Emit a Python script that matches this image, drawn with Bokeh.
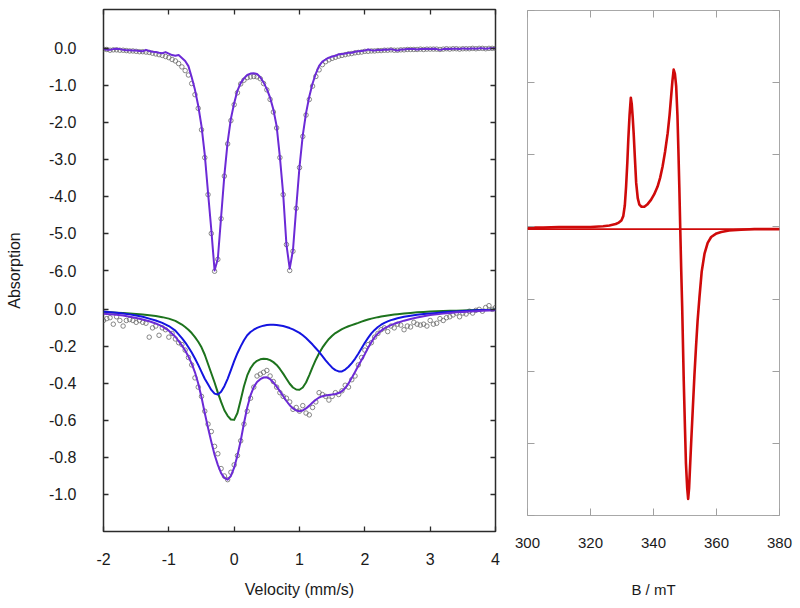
import numpy as np
from bokeh.plotting import figure
from bokeh.models import Range1d, LinearAxis, FixedTicker, CustomJSTickFormatter
from bokeh.layouts import row, column
from bokeh.embed import file_html
from bokeh.resources import INLINE

# ---------------- data ----------------
# velocity channels (mm/s) of the Moessbauer spectra
vel = [-2.00, -1.95, -1.90, -1.85, -1.80, -1.75, -1.70, -1.65, -1.60, -1.55,
       -1.50, -1.45, -1.40, -1.35, -1.30, -1.25, -1.20, -1.15, -1.10, -1.05,
       -1.00, -0.95, -0.90, -0.85, -0.80, -0.75, -0.70, -0.65, -0.60, -0.55,
       -0.50, -0.45, -0.40, -0.35, -0.30, -0.25, -0.20, -0.15, -0.10, -0.05,
       0.00, 0.05, 0.10, 0.15, 0.20, 0.25, 0.30, 0.35, 0.40, 0.45,
       0.50, 0.55, 0.60, 0.65, 0.70, 0.75, 0.80, 0.85, 0.90, 0.95,
       1.00, 1.05, 1.10, 1.15, 1.20, 1.25, 1.30, 1.35, 1.40, 1.45,
       1.50, 1.55, 1.60, 1.65, 1.70, 1.75, 1.80, 1.85, 1.90, 1.95,
       2.00, 2.05, 2.10, 2.15, 2.20, 2.25, 2.30, 2.35, 2.40, 2.45,
       2.50, 2.55, 2.60, 2.65, 2.70, 2.75, 2.80, 2.85, 2.90, 2.95,
       3.00, 3.05, 3.10, 3.15, 3.20, 3.25, 3.30, 3.35, 3.40, 3.45,
       3.50, 3.55, 3.60, 3.65, 3.70, 3.75, 3.80, 3.85, 3.90, 3.95, 4.00]

# upper spectrum: measured points (%)
upper_data = [-0.02, -0.03, -0.05, -0.04, -0.04, -0.05, -0.05, -0.06, -0.07, -0.07,
              -0.08, -0.09, -0.09, -0.10, -0.11, -0.13, -0.15, -0.17, -0.19, -0.22,
              -0.25, -0.30, -0.34, -0.41, -0.50, -0.60, -0.72, -0.95, -1.25, -1.62,
              -2.20, -2.95, -3.95, -5.00, -6.02, -5.70, -4.60, -3.45, -2.58, -1.95,
              -1.52, -1.20, -0.96, -0.86, -0.79, -0.77, -0.76, -0.77, -0.82, -0.95,
              -1.12, -1.38, -1.72, -2.15, -2.95, -3.95, -5.30, -6.00, -5.48, -4.32,
              -3.22, -2.38, -1.80, -1.38, -1.02, -0.76, -0.58, -0.44, -0.36, -0.31,
              -0.27, -0.24, -0.21, -0.19, -0.17, -0.15, -0.14, -0.12, -0.11, -0.10,
              -0.08, -0.08, -0.07, -0.07, -0.06, -0.06, -0.05, -0.05, -0.04, -0.05,
              -0.05, -0.04, -0.04, -0.03, -0.03, -0.03, -0.03, -0.02, -0.03, -0.02,
              -0.02, -0.02, -0.02, -0.03, -0.02, -0.01, -0.02, -0.01, -0.01, -0.02,
              -0.01, -0.01, -0.01, 0.00, -0.01, 0.00, 0.00, -0.01, 0.00, 0.00, 0.00]

# upper spectrum: fitted / smoothed line (%)
upper_fit = [-0.01, -0.04, -0.04, -0.02, -0.01, -0.02, -0.04, -0.05, -0.05, -0.06,
             -0.06, -0.07, -0.08, -0.04, -0.07, -0.09, -0.10, -0.12, -0.13, -0.10,
             -0.14, -0.18, -0.20, -0.18, -0.26, -0.34, -0.48, -0.78, -1.12, -1.55,
             -2.10, -2.87, -3.90, -4.90, -6.00, -5.68, -4.56, -3.43, -2.53, -1.90,
             -1.48, -1.14, -0.94, -0.81, -0.72, -0.68, -0.67, -0.69, -0.78, -0.92,
             -1.10, -1.33, -1.65, -2.10, -2.94, -3.93, -5.30, -5.95, -5.45, -4.30,
             -3.20, -2.35, -1.75, -1.30, -0.95, -0.68, -0.47, -0.36, -0.30, -0.25,
             -0.22, -0.20, -0.16, -0.15, -0.14, -0.12, -0.12, -0.09, -0.08, -0.07,
             -0.06, -0.03, -0.05, -0.06, -0.04, -0.05, -0.03, -0.04, -0.02, -0.04,
             -0.06, -0.03, -0.03, -0.02, -0.02, -0.02, -0.03, -0.02, -0.02, -0.01,
             -0.02, -0.01, -0.02, -0.04, -0.02, -0.01, -0.02, -0.01, -0.01, -0.02,
             0.00, -0.01, -0.01, 0.00, -0.01, 0.00, 0.00, -0.01, 0.00, 0.00, 0.00]

# lower spectrum: measured points (%)
lower_data = [-0.06, -0.05, -0.045, -0.08, -0.04, -0.06, -0.09, -0.06, -0.055, -0.06,
              -0.07, -0.06, -0.07, -0.075, -0.15, -0.10, -0.09, -0.14, -0.10, -0.11,
              -0.15, -0.13, -0.16, -0.18, -0.19, -0.22, -0.26, -0.30, -0.37, -0.42,
              -0.47, -0.55, -0.62, -0.66, -0.74, -0.78, -0.86, -0.90, -0.92, -0.88,
              -0.84, -0.79, -0.71, -0.62, -0.55, -0.48, -0.42, -0.36, -0.35, -0.34,
              -0.33, -0.36, -0.39, -0.42, -0.45, -0.47, -0.48, -0.50, -0.54, -0.53,
              -0.55, -0.52, -0.56, -0.57, -0.53, -0.50, -0.45, -0.46, -0.47, -0.49,
              -0.47, -0.45, -0.46, -0.44, -0.41, -0.42, -0.38, -0.36, -0.30, -0.26,
              -0.22, -0.19, -0.18, -0.15, -0.13, -0.11, -0.10, -0.12, -0.09, -0.10,
              -0.08, -0.085, -0.11, -0.09, -0.095, -0.07, -0.08, -0.085, -0.08, -0.09,
              -0.06, -0.08, -0.075, -0.05, -0.06, -0.045, -0.04, -0.03, -0.02, -0.04,
              -0.02, -0.025, -0.01, -0.02, -0.005, 0.00, -0.01, 0.01, 0.02, 0.00, 0.01]

# lower spectrum: fit curves (velocity grid denser in the middle)
vel_fit = [-2.0, -1.9, -1.8, -1.7, -1.6, -1.5, -1.4, -1.3, -1.2, -1.1, -1.0, -0.9,
           -0.8, -0.75, -0.7, -0.65, -0.6, -0.55, -0.5, -0.45, -0.4, -0.35, -0.3, -0.25,
           -0.2, -0.15, -0.1, -0.05,
           0.0, 0.05, 0.1, 0.15, 0.2, 0.25, 0.3, 0.35, 0.4, 0.45, 0.5, 0.55, 0.6, 0.65,
           0.7, 0.75, 0.8, 0.85, 0.9, 0.95,
           1.0, 1.05, 1.1, 1.15, 1.2, 1.25, 1.3, 1.35, 1.4, 1.45, 1.5, 1.55, 1.6, 1.65,
           1.7, 1.75, 1.8, 1.85, 1.9, 1.95,
           2.0, 2.05, 2.1, 2.15, 2.2, 2.25, 2.3, 2.35, 2.4, 2.45, 2.5,
           2.6, 2.7, 2.8, 2.9, 3.0, 3.1, 3.2, 3.3, 3.4, 3.5, 3.6, 3.7, 3.8, 3.9, 4.0]

lower_green = [-0.015, -0.016, -0.018, -0.020, -0.022, -0.025, -0.028, -0.032, -0.036, -0.042, -0.050, -0.062,
               -0.082, -0.095, -0.110, -0.128, -0.150, -0.175, -0.205, -0.245, -0.295, -0.345, -0.395, -0.450,
               -0.500, -0.545, -0.575, -0.595,
               -0.597, -0.560, -0.490, -0.415, -0.357, -0.318, -0.293, -0.278, -0.270, -0.267, -0.268, -0.274,
               -0.285, -0.300, -0.322, -0.347, -0.375, -0.402, -0.422, -0.433,
               -0.434, -0.422, -0.395, -0.355, -0.312, -0.272, -0.237, -0.207, -0.182, -0.160, -0.143, -0.128,
               -0.117, -0.107, -0.099, -0.091, -0.085, -0.079, -0.073, -0.066,
               -0.060, -0.055, -0.050, -0.046, -0.042, -0.039, -0.036, -0.033, -0.030, -0.028, -0.026,
               -0.022, -0.019, -0.016, -0.014, -0.012, -0.010, -0.009, -0.008, -0.007, -0.006, -0.005,
               -0.004, -0.003, -0.002, -0.002]

lower_blue = [-0.012, -0.015, -0.018, -0.022, -0.027, -0.033, -0.040, -0.050, -0.060, -0.073, -0.090, -0.115,
              -0.155, -0.178, -0.205, -0.233, -0.265, -0.300, -0.338, -0.375, -0.405, -0.435, -0.455, -0.460,
              -0.445, -0.415, -0.375, -0.328,
              -0.280, -0.237, -0.200, -0.167, -0.140, -0.122, -0.110, -0.100, -0.093, -0.088, -0.085, -0.083,
              -0.083, -0.084, -0.087, -0.090, -0.095, -0.101, -0.108, -0.117,
              -0.127, -0.140, -0.155, -0.172, -0.190, -0.210, -0.230, -0.252, -0.275, -0.296, -0.315, -0.328,
              -0.335, -0.335, -0.325, -0.310, -0.290, -0.267, -0.240, -0.210,
              -0.180, -0.154, -0.130, -0.111, -0.095, -0.083, -0.073, -0.065, -0.058, -0.053, -0.048,
              -0.040, -0.034, -0.029, -0.025, -0.022, -0.019, -0.016, -0.013, -0.011, -0.009, -0.007,
              -0.005, -0.004, -0.003, -0.002]

lower_total = [-0.023, -0.026, -0.029, -0.033, -0.040, -0.047, -0.055, -0.064, -0.076, -0.092, -0.115, -0.148,
               -0.195, -0.222, -0.255, -0.293, -0.340, -0.400, -0.475, -0.560, -0.640, -0.715, -0.785, -0.840,
               -0.885, -0.910, -0.920, -0.900,
               -0.855, -0.790, -0.710, -0.615, -0.530, -0.465, -0.420, -0.392, -0.377, -0.368, -0.367, -0.377,
               -0.395, -0.417, -0.442, -0.468, -0.495, -0.518, -0.535, -0.546,
               -0.550, -0.546, -0.535, -0.520, -0.503, -0.488, -0.476, -0.469, -0.465, -0.462, -0.460, -0.457,
               -0.452, -0.442, -0.425, -0.400, -0.370, -0.338, -0.305, -0.273,
               -0.242, -0.207, -0.177, -0.150, -0.130, -0.115, -0.103, -0.093, -0.085, -0.078, -0.072,
               -0.061, -0.052, -0.044, -0.037, -0.031, -0.027, -0.023, -0.019, -0.016, -0.014, -0.012,
               -0.010, -0.008, -0.006, -0.005]

# EPR spectrum
epr_b = [300, 305, 310, 315, 320, 324, 326, 328, 329, 329.8, 330.4, 330.9, 331.3, 331.7,
         332.0, 332.4, 332.8, 333.1, 333.4, 333.7, 334.1, 334.5, 335.0, 335.5, 336.2, 337.1,
         338.0, 339.2, 340.2, 341.3, 342.1, 342.9, 343.7, 344.5, 345.1, 345.6, 346.0, 346.4,
         346.8, 347.2, 347.6, 347.9, 348.2, 348.5, 348.8, 349.1, 349.6, 350.0, 350.3, 350.7,
         351.0, 351.3, 351.6, 352.0, 352.5, 353.0, 353.5, 354.0, 354.6, 355.3, 356.2, 357.2,
         358.3, 360, 361.5, 364, 367.8, 372, 376, 380]
epr_signal = [-0.01, -0.01, 0.0, 0.0, 0.0, 0.01, 0.02, 0.04, 0.06, 0.09, 0.15, 0.30, 0.56, 0.90,
              1.21, 1.55, 1.79, 1.70, 1.52, 1.30, 0.95, 0.61, 0.40, 0.31, 0.28, 0.28,
              0.31, 0.375, 0.45, 0.56, 0.68, 0.84, 1.05, 1.30, 1.55, 1.81, 2.02, 2.18,
              2.12, 1.95, 1.55, 1.07, 0.55, -0.04, -0.60, -1.10, -2.13, -2.80, -3.28, -3.62,
              -3.77, -3.62, -3.33, -2.95, -2.50, -2.05, -1.66, -1.30, -0.97, -0.62, -0.37, -0.22,
              -0.14, -0.09, -0.07, -0.05, -0.04, -0.03, -0.03, -0.03]
epr_base_b = [300, 380]
epr_base = [-0.03, -0.03]

# tick values and labels
vel_ticks = [-2, -1, 0, 1, 2, 3, 4]
vel_tick_labels = ["-2", "-1", "0", "1", "2", "3", "4"]
upper_ticks = [0.0, -1.0, -2.0, -3.0, -4.0, -5.0, -6.0]
upper_tick_labels = ["0.0", "-1.0", "-2.0", "-3.0", "-4.0", "-5.0", "-6.0"]
lower_ticks = [0.0, -0.2, -0.4, -0.6, -0.8, -1.0]
lower_tick_labels = ["0.0", "-0.2", "-0.4", "-0.6", "-0.8", "-1.0"]
b_ticks = [300, 320, 340, 360, 380]
epr_ticks = [-4, -3, -2, -1, 0, 1, 2, 3]

# ---------------- style ----------------
FONT = "Liberation Sans"
PURPLE = "#6c2ad6"
GREEN = "#1d731d"
BLUE = "#1414e0"
RED = "#cf0a0a"
PT = "#6a6a6a"

LOWER_OFFSET = -7.05   # where the lower spectrum's zero sits on the shared axis
LOWER_SCALE = 5.0      # lower spectrum is drawn 5x enlarged


def lower_y(vals):
    return [LOWER_OFFSET + LOWER_SCALE * v for v in vals]


y_tick_pos = list(upper_ticks) + lower_y(lower_ticks)
y_tick_txt = upper_tick_labels + lower_tick_labels

LOOKUP = """
for (let i = 0; i < pos.length; i++) {
  if (Math.abs(pos[i] - tick) < 1e-6) { return txt[i]; }
}
return "";
"""


def style(ax, tick_color, tick_len, tick_w, size):
    ax.axis_line_color = None
    ax.major_tick_in = tick_len
    ax.major_tick_out = 0
    ax.major_tick_line_color = tick_color
    ax.major_tick_line_width = tick_w
    ax.minor_tick_line_color = None
    ax.major_label_text_font = FONT
    ax.major_label_text_font_size = size
    ax.major_label_text_color = "#1a1a1a"
    ax.axis_label_text_font = FONT
    ax.axis_label_text_font_size = size
    ax.axis_label_text_font_style = "normal"
    ax.axis_label_text_color = "#1a1a1a"


def no_labels(ax):
    ax.major_label_text_font_size = "0px"
    ax.major_label_text_color = None
    ax.major_label_standoff = 0


# ---------------- left panel: Moessbauer ----------------
p1 = figure(width=510, height=608, x_range=Range1d(-2, 4), y_range=Range1d(-13.05, 1.05),
            output_backend="svg", toolbar_location=None,
            min_border_left=103, min_border_right=15, min_border_top=9, min_border_bottom=77)
p1.grid.visible = False
p1.outline_line_color = "#2b2b2b"
p1.outline_line_width = 1.5

xa = p1.xaxis[0]
xa.ticker = FixedTicker(ticks=vel_ticks, minor_ticks=[])
xa.formatter = CustomJSTickFormatter(args=dict(pos=vel_ticks, txt=vel_tick_labels), code=LOOKUP)
xa.axis_label = "Velocity (mm/s)"
ya = p1.yaxis[0]
ya.ticker = FixedTicker(ticks=y_tick_pos, minor_ticks=[])
ya.formatter = CustomJSTickFormatter(args=dict(pos=y_tick_pos, txt=y_tick_txt), code=LOOKUP)
ya.axis_label = "Absorption"

top1 = LinearAxis(ticker=FixedTicker(ticks=vel_ticks, minor_ticks=[]))
right1 = LinearAxis(ticker=FixedTicker(ticks=y_tick_pos, minor_ticks=[]))
p1.add_layout(top1, "above")
p1.add_layout(right1, "right")
for ax in [xa, ya, top1, right1]:
    style(ax, "#2b2b2b", 5, 1.3, "16px")
for ax in [top1, right1]:
    no_labels(ax)
xa.major_label_standoff = 21
xa.axis_label_standoff = 13
ya.major_label_standoff = 27
ya.axis_label_standoff = 23

# upper spectrum
p1.scatter(vel, upper_data, marker="circle", size=4.5, fill_color=None,
           line_color=PT, line_width=0.8)
p1.line(vel, upper_fit, color=PURPLE, line_width=2, line_join="round")
# lower spectrum
p1.scatter(vel, lower_y(lower_data), marker="circle", size=4.5, fill_color=None,
           line_color=PT, line_width=0.8)
p1.line(vel_fit, lower_y(lower_green), color=GREEN, line_width=2, line_join="round")
p1.line(vel_fit, lower_y(lower_blue), color=BLUE, line_width=2, line_join="round")
p1.line(vel_fit, lower_y(lower_total), color=PURPLE, line_width=2, line_join="round")

# ---------------- right panel: EPR ----------------
p2 = figure(width=290, height=608, x_range=Range1d(300, 380), y_range=Range1d(-4, 3),
            output_backend="svg", toolbar_location=None,
            min_border_left=17, min_border_right=21, min_border_top=10, min_border_bottom=93)
p2.grid.visible = False
p2.outline_line_color = "#a8a8a8"
p2.outline_line_width = 1

bx = p2.xaxis[0]
bx.ticker = FixedTicker(ticks=b_ticks, minor_ticks=[])
bx.axis_label = "B / mT"
by = p2.yaxis[0]
by.ticker = FixedTicker(ticks=epr_ticks, minor_ticks=[])
top2 = LinearAxis(ticker=FixedTicker(ticks=b_ticks, minor_ticks=[]))
right2 = LinearAxis(ticker=FixedTicker(ticks=epr_ticks, minor_ticks=[]))
p2.add_layout(top2, "above")
p2.add_layout(right2, "right")
for ax in [bx, by, top2, right2]:
    style(ax, "#a0a0a0", 7, 1, "15px")
for ax in [by, top2, right2]:
    no_labels(ax)
bx.major_label_standoff = 22
bx.axis_label_standoff = 30

p2.line(epr_base_b, epr_base, color=RED, line_width=1.6)
p2.line(epr_b, epr_signal, color=RED, line_width=2.6, line_join="round")

layout = row(p1, column(p2))
open("out.html", "w").write(file_html(layout, INLINE))
